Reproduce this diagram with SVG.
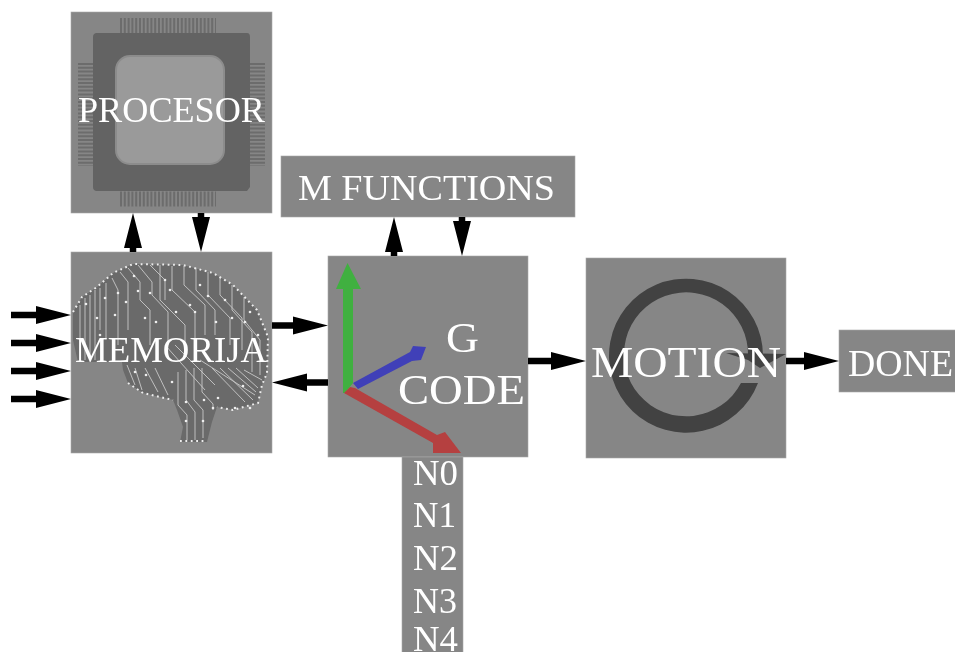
<svg xmlns="http://www.w3.org/2000/svg" width="955" height="652" viewBox="0 0 955 652">
<style>
.b{fill:#868686;stroke:#a8a8a8;stroke-width:0.600}
.t{font-family:"Liberation Serif",serif;fill:#fff;text-anchor:middle;font-size:36px}
.c{stroke:#000;stroke-width:6.500;fill:none}
.h{fill:#000;stroke:none}
.pin{stroke:#6c6c6c;stroke-dasharray:2 1.800;fill:none}
.w{stroke:#c8c8c8;stroke-width:0.900;fill:none}
.o{fill:none;stroke:#eee;stroke-width:2;stroke-dasharray:1.800 3.600}
.d{fill:#eee}
</style>
<defs><filter id="s" filterUnits="userSpaceOnUse" x="0" y="0" width="955" height="652"><feGaussianBlur stdDeviation="0.500"/></filter></defs>
<rect width="955" height="652" fill="#fff"/>
<g filter="url(#s)">
<g id="procesor">
<rect class="b" x="71" y="12" width="201" height="201"/>
<path class="pin" stroke-width="15" d="M120 25.500H216M120 199H216"/>
<path class="pin" stroke-width="15" d="M85.500 63V166M257.500 63V166"/>
<path d="M97 33H247Q250 33 250 37V187L247 191H97Q93 191 93 187V37Q93 33 97 33Z" fill="#636363"/>
<rect x="116" y="56" width="108" height="108" rx="14" fill="#9a9a9a" stroke="#8c8c8c" stroke-width="2"/>
<text class="t" x="171.500" y="122" textLength="187" lengthAdjust="spacingAndGlyphs">PROCESOR</text>
</g>
<g id="memorija">
<rect class="b" x="71" y="252" width="201" height="201"/>
<path d="M73 312L82 297L97 287L113 273L133 264L183 265L213 273L233 285L257 310L268 337L267 373L262 385L258 403L233 410L217 407L212 422L207 442H180L183 427L177 410L173 400L143 393L128 383L123 370L122 362H78L73 340Z" fill="#6a6a6a"/>
<path class="w" d="M80 305V360M85 298V360M90 295V360M95 290V360M100 288V330M106 283V340M112 278L118 290V345M120 272L128 282V330M128 268L140 282V300L150 310V345M138 265L152 282V295L168 312V345M150 265L165 280V300M160 265L160 300L185 325V345M172 266L172 290L195 312V340M184 266V285L205 305V335M196 268L196 290L215 310V335M208 272L208 295L230 318V345M220 277L220 295L242 318V350M232 285V310L252 332V372M244 297V320L260 340V375M127 365L135 385M135 368L142 390M145 368L158 392M155 368L168 395"/>
<path class="w" d="M178 372V405L187 415V440M186 370V400L195 412V440M194 368V400L203 410V438M202 368V392L213 404V410M212 368L245 402M220 368L253 400M228 368L256 392M236 368L258 388M244 370L262 380M200 360L255 395M175 345L215 385M165 345L205 390"/>
<path class="o" d="M73 312L82 297L97 287L113 273L133 264L183 265L213 273L233 285L257 310L268 337L267 373L262 385L258 403L233 410L217 407M128 383L143 393L173 400M180 441H207"/>
<g class="d"><circle cx="86" cy="304" r="1.300"/><circle cx="97" cy="318" r="1.300"/><circle cx="105" cy="298" r="1.300"/><circle cx="100" cy="335" r="1.300"/><circle cx="115" cy="315" r="1.300"/><circle cx="118" cy="293" r="1.300"/><circle cx="126" cy="302" r="1.300"/><circle cx="134" cy="276" r="1.300"/><circle cx="138" cy="291" r="1.300"/><circle cx="145" cy="318" r="1.300"/><circle cx="150" cy="293" r="1.300"/><circle cx="156" cy="322" r="1.300"/><circle cx="165" cy="280" r="1.300"/><circle cx="170" cy="290" r="1.300"/><circle cx="176" cy="312" r="1.300"/><circle cx="190" cy="305" r="1.300"/><circle cx="200" cy="285" r="1.300"/><circle cx="195" cy="312" r="1.300"/><circle cx="208" cy="296" r="1.300"/><circle cx="216" cy="322" r="1.300"/><circle cx="225" cy="300" r="1.300"/><circle cx="232" cy="318" r="1.300"/><circle cx="245" cy="322" r="1.300"/><circle cx="250" cy="312" r="1.300"/><circle cx="258" cy="335" r="1.300"/><circle cx="135" cy="372" r="1.300"/><circle cx="146" cy="375" r="1.300"/><circle cx="172" cy="382" r="1.300"/><circle cx="186" cy="402" r="1.300"/><circle cx="204" cy="400" r="1.300"/><circle cx="213" cy="408" r="1.300"/><circle cx="218" cy="398" r="1.300"/><circle cx="186" cy="421" r="1.300"/><circle cx="203" cy="421" r="1.300"/><circle cx="235" cy="408" r="1.300"/><circle cx="243" cy="386" r="1.300"/><circle cx="250" cy="408" r="1.300"/></g>
<text class="t" x="171" y="362" style="font-size:35px" textLength="192" lengthAdjust="spacingAndGlyphs">MEMORIJA</text>
</g>
<g id="gcode">
<rect class="b" x="328" y="256" width="200" height="201"/>
<path d="M343 393V289H336L347.500 263L361 289H353V383L345 393Z" fill="#41b041"/>
<path d="M353 383L410 352L413 346L426 347L421 360L412 361L358 389Z" fill="#4040b8"/>
<path d="M344 393L350 387L355 388L437 435L445 432L461 453H433V443Z" fill="#b54040"/>
<text class="t" x="462.500" y="352" style="font-size:42px" textLength="33" lengthAdjust="spacingAndGlyphs">G</text>
<text class="t" x="461.500" y="404" style="font-size:42px" textLength="127" lengthAdjust="spacingAndGlyphs">CODE</text>
</g>
<g id="motion">
<rect class="b" x="586" y="258" width="200" height="200"/>
<path d="M763 356A77 77 0 1 0 758 383H741A62 62 0 1 1 748 356Z" fill="#424242"/>
<path d="M726 353L786 354L760 368L748 360Z" fill="#424242"/>
<text class="t" x="686" y="377" style="font-size:44px" textLength="190" lengthAdjust="spacingAndGlyphs">MOTION</text>
</g>
<g id="mfunctions">
<rect class="b" x="281" y="156" width="294" height="61"/>
<text class="t" x="426.500" y="200" textLength="257" lengthAdjust="spacingAndGlyphs">M FUNCTIONS</text>
</g>
<g id="done">
<rect class="b" x="839" y="330" width="117" height="62"/>
<text class="t" x="900.500" y="376" style="font-size:37px" textLength="105" lengthAdjust="spacingAndGlyphs">DONE</text>
</g>
<g id="n">
<rect class="b" x="402" y="457" width="61" height="196"/>
<text class="t" x="435.500" y="485" textLength="45" lengthAdjust="spacingAndGlyphs">N0</text>
<text class="t" x="434.500" y="527" textLength="43" lengthAdjust="spacingAndGlyphs">N1</text>
<text class="t" x="435.500" y="570" textLength="45" lengthAdjust="spacingAndGlyphs">N2</text>
<text class="t" x="435" y="613" textLength="44" lengthAdjust="spacingAndGlyphs">N3</text>
<text class="t" x="435.500" y="651" textLength="45" lengthAdjust="spacingAndGlyphs">N4</text>
</g>
<g id="connectors">
<path class="c" d="M11 315H38M11 343H38M11 371H38M11 399H38M272 325.500H296M328 382.500H304M528 361H553M786 361H805M133 252V246M201 213V219M394 256V250M462 217V223"/>
<path class="h" d="M36 306L71 315L36 324ZM36 334L71 343L36 352ZM36 362L71 371L36 380ZM36 390L71 399L36 408ZM293 316.500L328 325.500L293 334.500ZM307 373.500L272 382.500L307 391.500ZM551 352L586 361L551 370ZM804 352L839 361L804 370ZM124 248L133 213L142 248ZM192 217L201 252L210 217ZM385 252L394 217L403 252ZM453 221L462 256L471 221Z"/>
</g>
</g>
</svg>
